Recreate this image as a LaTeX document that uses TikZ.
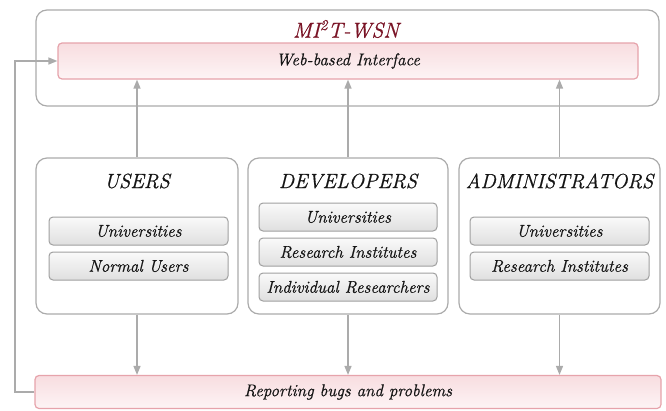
\documentclass[tikz,border=0pt]{standalone}
\usepackage{fontspec}
\setmainfont{Latin Modern Roman}[ItalicFeatures={FakeBold=0.7}]
\usetikzlibrary{arrows.meta}
\definecolor{framegray}{HTML}{ABABAB}
\definecolor{arrowgray}{HTML}{ABABAB}
\definecolor{itemedge}{HTML}{A0A0A0}
\definecolor{pinkedge}{HTML}{E6A3AB}
\definecolor{pinktop}{HTML}{F8DDE0}
\definecolor{pinkbot}{HTML}{FDF4F5}
\definecolor{titlered}{HTML}{7A1426}
\definecolor{inktext}{HTML}{151515}
\tikzset{
  frame/.style={draw=framegray, line width=1.2pt, rounded corners=11pt, fill=white},
  pinkbar/.style={draw=pinkedge, line width=1.2pt, rounded corners=4pt,
    top color=pinktop, bottom color=pinkbot, text=inktext,
    font=\fontsize{17}{20}\selectfont\itshape},
  item/.style={draw=itemedge, line width=1pt, rounded corners=4pt,
    top color=gray!4, bottom color=gray!25, minimum width=179pt, minimum height=28pt,
    text=inktext, font=\fontsize{17}{20}\selectfont\itshape},
  grouptitle/.style={text=inktext, font=\fontsize{20.5}{24}\selectfont\itshape},
  link/.style={draw=arrowgray, line width=1.4pt, -{Triangle[length=9pt,width=7pt]}}
}
\begin{document}
\begin{tikzpicture}[x=1pt,y=-1pt]
\useasboundingbox (0,0) rectangle (666,410);

% system frame with the web interface
\node[frame, minimum width=623pt, minimum height=96pt] (sys) at (347.5,58) {};
\node[text=titlered, font=\fontsize{21.5}{25}\selectfont\itshape] (systitle) at (346,29) {MI\textsuperscript{2}T-WSN};
\node[pinkbar, minimum width=580pt, minimum height=36pt] (web) at (348,61) {Web-based Interface};

% user groups
\node[frame, minimum width=202pt, minimum height=156pt] (users) at (137,236) {};
\node[frame, minimum width=200pt, minimum height=156pt] (devs) at (348,236) {};
\node[frame, minimum width=201pt, minimum height=156pt] (admins) at (559.5,236) {};

\node[grouptitle] (userst) at (137,181) {USERS};
\node[grouptitle] (devst) at (348,181) {DEVELOPERS};
\node[grouptitle] (adminst) at (559.5,181) {ADMINISTRATORS};

\node[item] (u1) at (138.5,231) {Universities};
\node[item] (u2) at (138.5,266) {Normal Users};

\node[item, minimum width=178pt] (d1) at (348,217) {Universities};
\node[item, minimum width=178pt] (d2) at (348,252) {Research Institutes};
\node[item, minimum width=178pt] (d3) at (348,287) {Individual Researchers};

\node[item] (a1) at (559.5,231) {Universities};
\node[item] (a2) at (559.5,266) {Research Institutes};

% feedback bar
\node[pinkbar, minimum width=626pt, minimum height=33pt] (report) at (348,392) {Reporting bugs and problems};

% connectors
\foreach \g in {users,devs,admins}{
  \draw[link] (\g.north) -- (\g.north |- web.south);
  \draw[link] (\g.south) -- (\g.south |- report.north);
}
\coordinate (loop) at (15,392);
\draw[link] (report.west) -- (loop) |- (web.west);
\end{tikzpicture}
\end{document}
